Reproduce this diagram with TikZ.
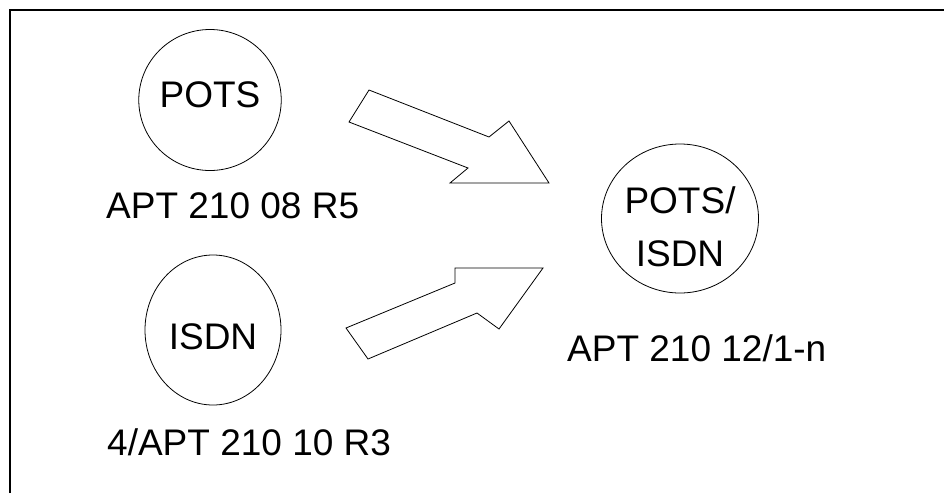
\documentclass[tikz,border=0pt]{standalone}
\usepackage{fontspec}
\setmainfont{Liberation Sans}
\usetikzlibrary{shapes.geometric}
\begin{document}
\begin{tikzpicture}[
  x=1pt, y=-1pt,
  unit/.style={ellipse, draw, line width=0.8pt, inner sep=0pt, align=center,
    font=\fontsize{37}{53}\selectfont},
  tag/.style={anchor=base west, inner sep=0pt, font=\fontsize{37}{44}\selectfont},
  fatarrow/.style={draw, line width=0.8pt, line join=miter, fill=white}
]
\useasboundingbox (0,0) rectangle (944,493);
% frame
\draw[line width=2.2pt] (10,493) -- (10,10) -- (944,10);

\node[unit, minimum width=138pt, minimum height=141pt, text depth=11pt] (pots) at (210,100) {POTS};
\node[tag] (potsref) at (106,218) {APT 210 08 R5};

\node[unit, minimum width=136pt, minimum height=150pt, text depth=0pt, text height=38pt] (isdn) at (213,330) {ISDN};
\node[tag] (isdnref) at (107,455) {4/APT 210 10 R3};

\node[unit, minimum width=138pt, minimum height=149pt, text height=96pt, text depth=0pt] (combo) at (680,218.5) {POTS/\\ISDN};
\node[tag] (comboref) at (567,361) {APT 210 12/1-n};

% block arrows
\draw[fatarrow] (369,90) -- (489,137) -- (509,121) -- (549,183) -- (450,183)
  -- (468,168) -- (349,122) -- cycle;
\draw[fatarrow] (346,328) -- (455,283) -- (455,268) -- (543,268) -- (499,329)
  -- (477,313) -- (368,359) -- cycle;
\end{tikzpicture}
\end{document}
